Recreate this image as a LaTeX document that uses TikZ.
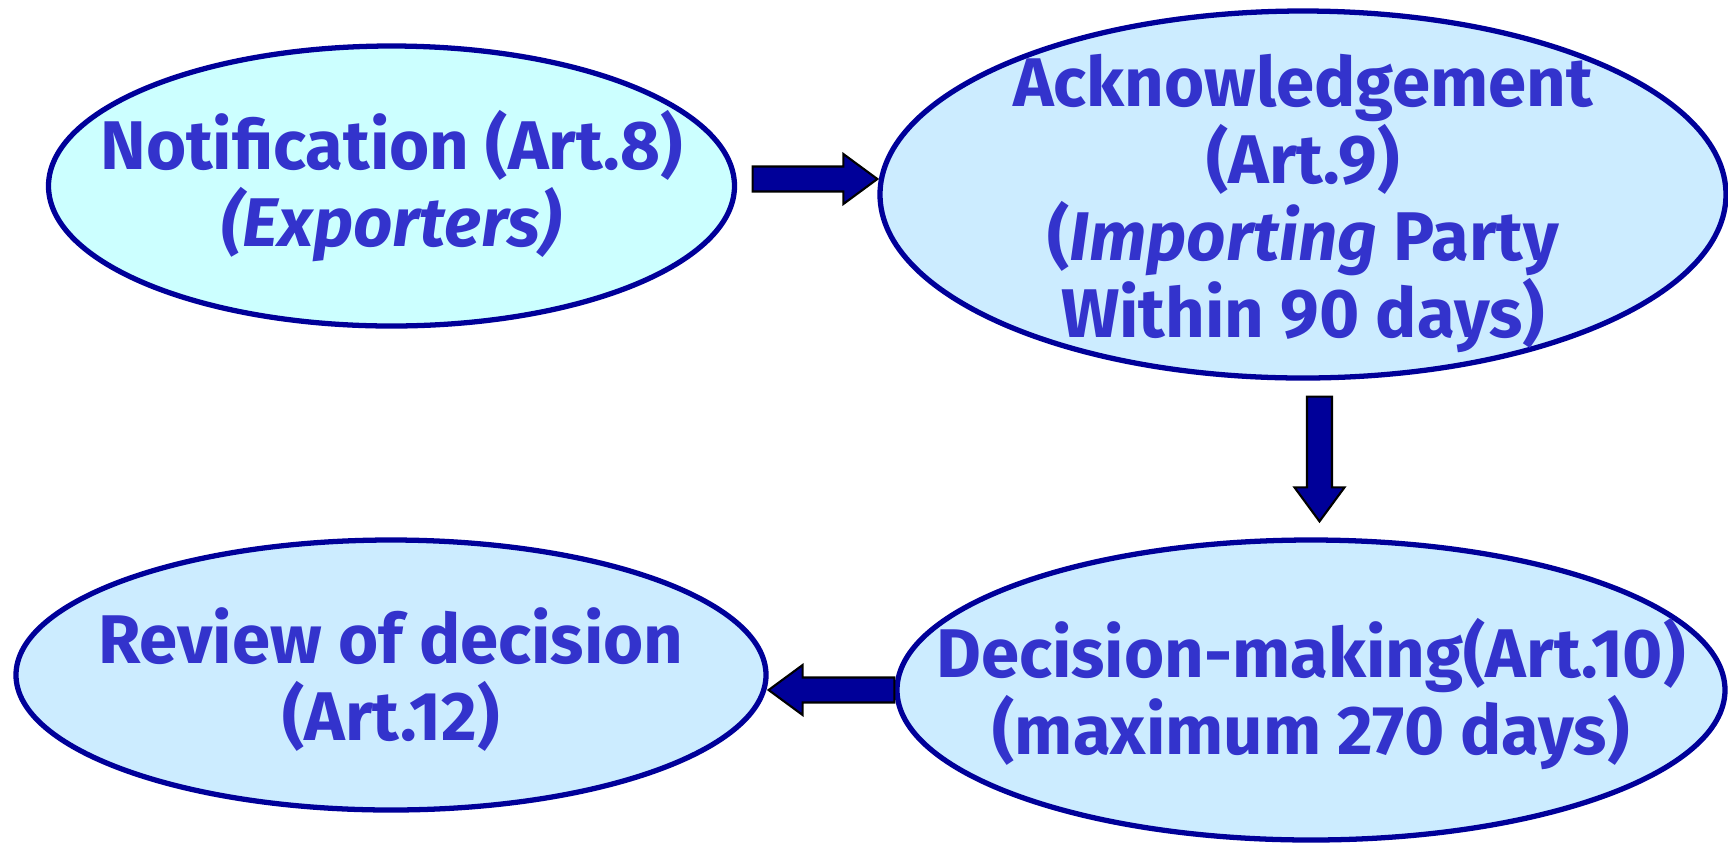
\documentclass[tikz,border=0pt]{standalone}
\usepackage{fontspec}
\setmainfont{Fira Sans}
\usetikzlibrary{shapes.geometric,calc}
\definecolor{ovalline}{HTML}{000099}
\definecolor{ovalcyan}{HTML}{CCFFFF}
\definecolor{ovalblue}{HTML}{CCECFF}
\definecolor{steptext}{HTML}{3333CC}

\newcommand{\blockarrow}[2]{%
  \coordinate (ba-s) at (#1);
  \coordinate (ba-t) at (#2);
  \coordinate (ba-h) at ($(ba-t)!0.34cm!(ba-s)$);
  \filldraw[fill=ovalline, draw=black, line width=0.6pt, line join=miter]
    ($(ba-s)!0.125cm!90:(ba-t)$) -- ($(ba-h)!0.125cm!90:(ba-t)$)
    -- ($(ba-h)!0.25cm!90:(ba-t)$) -- (ba-t)
    -- ($(ba-h)!0.25cm!-90:(ba-t)$) -- ($(ba-h)!0.125cm!-90:(ba-t)$)
    -- ($(ba-s)!0.125cm!-90:(ba-t)$) -- cycle;
}

\begin{document}
\begin{tikzpicture}[
    oval/.style={ellipse, draw=ovalline, line width=1.5pt, fill=ovalblue, inner sep=0pt},
    ovaltext/.style={text=steptext, align=center, font=\bfseries\fontsize{19.6}{21.9}\selectfont}]
    \useasboundingbox (0,0) rectangle (17.28,-8.42);
    \fill[white] (0,0) rectangle (17.28,-8.42);

    \node[oval, fill=ovalcyan, minimum width=6.86cm, minimum height=2.80cm] (notif) at (3.915,-1.86) {};
    \node[ovaltext] (notif-t) at (notif) {Notification (Art.8)\\\textit{(Exporters)}};

    \node[oval, minimum width=8.46cm, minimum height=3.67cm] (ack) at (13.03,-1.945) {};
    \node[ovaltext] (ack-t) at ([yshift=-0.09cm]ack) {Acknowledgement\\(Art.9)\\(\textit{Importing} Party\\Within 90 days)};

    \node[oval, minimum width=8.28cm, minimum height=3.00cm] (dec) at (13.11,-6.90) {};
    \node[ovaltext] (dec-t) at ([yshift=-0.04cm]dec) {Decision-making(Art.10)\\(maximum 270 days)};

    \node[oval, minimum width=7.50cm, minimum height=2.70cm] (rev) at (3.91,-6.75) {};
    \node[ovaltext] (rev-t) at ([yshift=-0.05cm]rev) {Review of decision\\(Art.12)};

    \coordinate (a1) at ([shift={(0.155,0.07)}]notif.east);
    \blockarrow{a1}{ack.west |- a1}
    \coordinate (a2) at ([shift={(0.165,-0.16)}]ack.south);
    \coordinate (a2e) at ($(dec.north -| a2)+(0,0.16)$);
    \blockarrow{a2}{a2e}
    \blockarrow{dec.west}{rev.east |- dec.west}

\end{tikzpicture}
\end{document}
